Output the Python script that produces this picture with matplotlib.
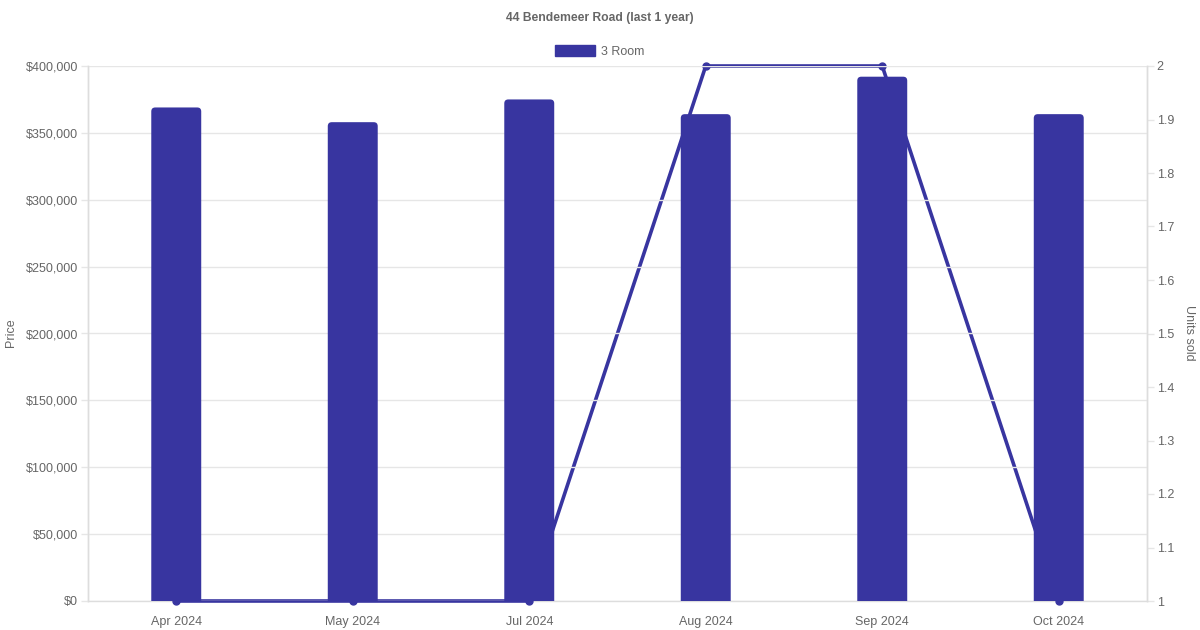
import matplotlib.pyplot as plt
from matplotlib.patches import FancyBboxPatch
from matplotlib.ticker import FuncFormatter, MultipleLocator

plt.rcParams['font.family'] = ['Liberation Sans', 'DejaVu Sans']

months = ["Apr 2024", "May 2024", "Jul 2024", "Aug 2024", "Sep 2024", "Oct 2024"]
prices = [369000, 358000, 375000, 364000, 392000, 364000]
units_sold = [1, 1, 1, 2, 2, 1]

bar_color = "#3835a0"
grid_color = "#e6e6e6"
text_color = "#666666"

W, H = 1200, 630
left, right, top, bottom = 88, 1147, 66, 601

fig = plt.figure(figsize=(12, 6.3), dpi=100)
ax = fig.add_axes([left / W, 1 - bottom / H, (right - left) / W, (bottom - top) / H])
ax2 = ax.twinx()

# bars drawn above the line, as in the reference
ax.set_zorder(ax2.get_zorder() + 1)
ax.patch.set_visible(False)

x = list(range(len(months)))
bw = 0.283
bars = ax.bar(x, prices, width=bw, color=bar_color, zorder=3, label="3 Room")

# rounded top corners: swap each rectangle for a rounded box reaching below zero
ymax = 400000
px_x = len(months) / (right - left)
px_y = ymax / (bottom - top)
r = 4 * px_x
for b in bars:
    b.set_visible(False)
    x0, h = b.get_x(), b.get_height()
    ax.add_patch(FancyBboxPatch((x0, -r * (px_y / px_x)), bw, h + r * (px_y / px_x),
                                boxstyle=f"round,pad=0,rounding_size={r}",
                                mutation_aspect=px_y / px_x,
                                facecolor=bar_color, edgecolor="none", zorder=3))

ax2.plot(x, units_sold, color=bar_color, linewidth=2.6, marker="o", markersize=5,
         clip_on=False, zorder=3)

ax.set_xlim(-0.5, len(months) - 0.5)
ax.set_ylim(0, ymax)
ax2.set_ylim(1, 2)

ax.yaxis.set_major_locator(MultipleLocator(50000))
ax.yaxis.set_major_formatter(FuncFormatter(lambda v, p: f"${v:,.0f}"))
ax2.yaxis.set_major_locator(MultipleLocator(0.1))
ax2.yaxis.set_major_formatter(FuncFormatter(lambda v, p: f"{v:.1f}".rstrip("0").rstrip(".")))

ax.set_xticks(x)
ax.set_xticklabels(months)
ax.grid(axis="y", color=grid_color, linewidth=1, zorder=0)
ax.set_axisbelow(True)

for a in (ax, ax2):
    for s in a.spines.values():
        s.set_color("#dddddd")
        s.set_linewidth(1)
    a.spines["top"].set_visible(False)
    a.tick_params(colors=text_color, labelsize=9, length=5, width=1)
    a.tick_params(axis="y", color=grid_color, pad=2)
ax.spines["bottom"].set_visible(False)
ax.tick_params(axis="x", length=0, pad=11)

fig.text(11 / W, 1 - 333 / H, "Price", rotation=90, ha="center", va="center",
         color=text_color, fontsize=9)
fig.text(1189 / W, 1 - 333 / H, "Units sold", rotation=270, ha="center", va="center",
         color=text_color, fontsize=9)

fig.text(0.5, 1 - 18.5 / H, "44 Bendemeer Road (last 1 year)", ha="center", va="center",
         color=text_color, fontsize=8.7, fontweight="bold")
ax.legend(handles=[plt.Rectangle((0, 0), 1, 1, color=bar_color)], labels=["3 Room"],
          loc="center", bbox_to_anchor=(0.5, 1 - 51.5 / H), bbox_transform=fig.transFigure,
          frameon=False, fontsize=9, handlelength=3.2, handleheight=0.9,
          handletextpad=0.5, labelcolor=text_color)

fig.savefig("out.png", dpi=100)
